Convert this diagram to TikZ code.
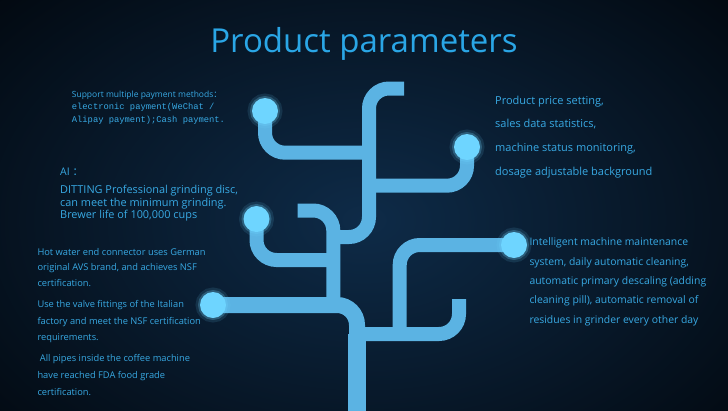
\documentclass[tikz,border=0pt]{standalone}
\usepackage{fontspec}
\setmainfont{Open Sans}
\setmonofont{Liberation Mono}
\newfontfamily\cjk{Noto Sans CJK SC}
\usetikzlibrary{positioning}
\definecolor{bgin}{HTML}{0E2B48}
\definecolor{bgout}{HTML}{02080F}
\definecolor{pipeblue}{HTML}{5BB3E3}
\definecolor{dotblue}{HTML}{6ED5FF}
\definecolor{txtblue}{HTML}{38A9E3}
\definecolor{titleblue}{HTML}{2AA6E6}

\begin{document}
\begin{tikzpicture}[x=1pt, y=-1pt,
  pipe/.style={draw=pipeblue, line width=14pt, rounded corners=20pt},
  dot/.style={circle, fill=dotblue, minimum size=26pt, inner sep=0pt,
    preaction={draw=dotblue, line width=9pt, opacity=.12},
    preaction={draw=dotblue, line width=4pt, opacity=.25}},
  info/.style={anchor=base west, inner sep=0pt, text=txtblue}
]
  % background
  \useasboundingbox (0,0) rectangle (728,410);
  \shade[inner color=bgin, outer color=bgout] (-150,-120) rectangle (878,560);

  % title
  \node[anchor=base, inner sep=0pt, text=titleblue, font=\fontsize{33}{36}\selectfont] (title) at (364,52) {Product parameters};

  % tree: dot and stub positions
  \coordinate (dUL) at (265,111);
  \coordinate (dUR) at (467,147);
  \coordinate (dML) at (256.5,219);
  \coordinate (dLL) at (213,305);
  \coordinate (dR) at (514,245);
  \coordinate (sTop) at (404,88.5);
  \coordinate (sMid) at (297.5,210.5);
  \coordinate (sHook) at (459,299);
  \coordinate (jA) at (369,237);
  \coordinate (jAB) at (333.3,237);
  \coordinate (jB) at (333.3,305);
  \coordinate (jUL) at (369,152.7);
  \coordinate (jUR) at (369,185.7);
  \coordinate (jML) at (333.3,260);
  \coordinate (jR) at (399.7,334);
  \coordinate (jHook) at (357,334);
  \coordinate (root) at (357,412);

  % pipes
  \draw[pipe] (sTop) -| (jA) -- (jAB);
  \draw[pipe] (dUL) |- (jUL);
  \draw[pipe] (dUR) |- (jUR);
  \draw[pipe] (sMid) -| (jB);
  \draw[pipe] (dML) |- (jML);
  \draw[pipe, line width=16pt] (dLL) -| (root);
  \draw[pipe, line width=18pt] (jHook) -- (root);
  \draw[pipe] (dR) -| (jR);
  \draw[pipe] (sHook) |- (jHook);

  % glowing ends
  \foreach \d in {dUL,dUR,dML,dLL,dR}
    \node[dot] (\d-end) at (\d) {};

  % payment
  \node[info, font=\fontsize{8.5}{10}\selectfont] (pay1) at (71.7,97.3) {Support multiple payment methods{\cjk ：}};
  \node[info, font=\ttfamily\fontsize{8.8}{10}\selectfont] (pay2) at (71.7,109.5) {electronic payment(WeChat /};
  \node[info, font=\ttfamily\fontsize{8.8}{10}\selectfont] (pay3) at (71.7,122.7) {Alipay payment);Cash payment.};

  % grinder
  \node[info, font=\fontsize{10.5}{12}\selectfont] (ai) at (60,175) {AI {\cjk ：}};
  \foreach \y/\t [count=\i] in {193.3/{DITTING Professional grinding disc,}, 206.5/{can meet the minimum grinding.}, 218.5/{Brewer life of 100,000 cups}}
    \node[info, font=\fontsize{10.9}{12}\selectfont] (grind\i) at (60,\y) {\t};

  % certifications
  \foreach \y/\t [count=\i] in {255/{Hot water end connector uses German}, 270.7/{original AVS brand, and achieves NSF}, 286.7/{certification.}, 307.3/{Use the valve fittings of the Italian}, 324/{factory and meet the NSF certification}, 340/{requirements.}, 361.7/{\ All pipes inside the coffee machine}, 378.3/{have reached FDA food grade}, 395/{certification.}}
    \node[info, font=\fontsize{9.3}{11}\selectfont] (cert\i) at (37.3,\y) {\t};

  % backend
  \foreach \y/\t [count=\i] in {104/{Product price setting,}, 127.5/{sales data statistics,}, 151.5/{machine status monitoring,}, 175/{dosage adjustable background}}
    \node[info, font=\fontsize{11}{13}\selectfont] (back\i) at (495,\y) {\t};

  % maintenance
  \foreach \y/\t [count=\i] in {245/{Intelligent machine maintenance}, 265/{system, daily automatic cleaning,}, 284/{automatic primary descaling (adding}, 303.3/{cleaning pill), automatic removal of}, 323.3/{residues in grinder every other day}}
    \node[info, font=\fontsize{10.4}{12}\selectfont] (care\i) at (529.3,\y) {\t};
\end{tikzpicture}
\end{document}
